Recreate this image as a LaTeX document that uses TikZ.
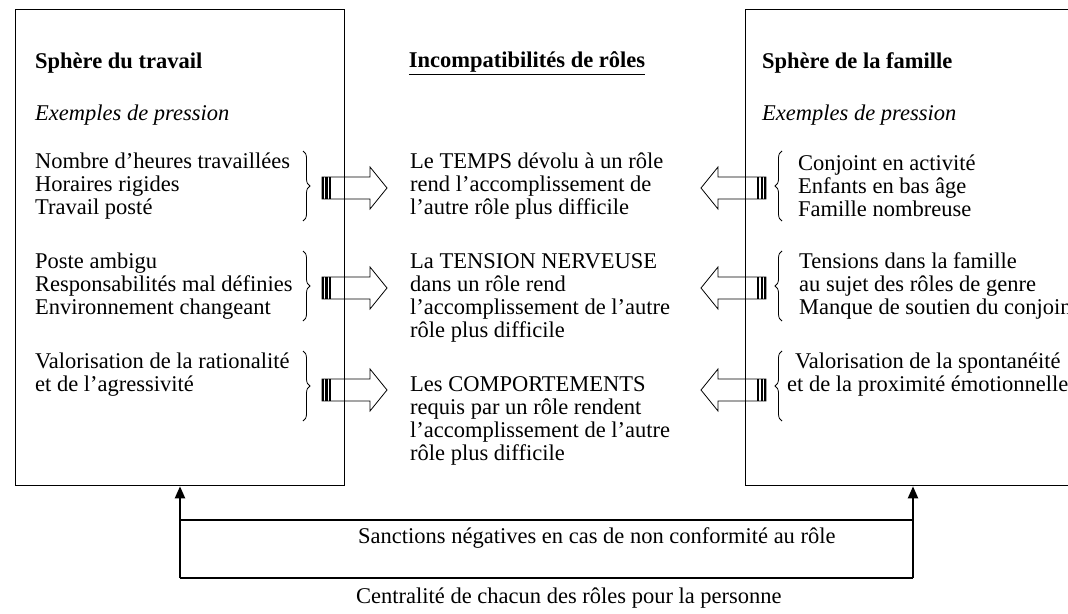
\documentclass[tikz,border=0pt]{standalone}
\usepackage{fontspec}
\setmainfont{Liberation Serif}
\usetikzlibrary{arrows.meta,decorations.pathreplacing}
\begin{document}
\begin{tikzpicture}[x=1pt,y=-1pt,
  txt/.style={font=\fontsize{22.5}{23}\selectfont, inner sep=0pt, align=left, anchor=west},
  ttl/.style={font=\fontsize{22.5}{23}\selectfont\bfseries, inner sep=0pt, anchor=west},
  sub/.style={font=\fontsize{22.5}{23}\selectfont\itshape, inner sep=0pt, anchor=west},
  box/.style={draw, line width=1.3pt, inner sep=0pt, anchor=north west},
  brc/.style={decorate, decoration={brace, amplitude=7pt}, line width=0.8pt},
  conn/.style={line width=2pt},
  stripearrow/.pic={
    \fill (0,-11) rectangle (2.2,11);
    \fill (3.3,-11) rectangle (5.5,11);
    \fill (6.6,-11) rectangle (8.8,11);
    \draw[line width=0.8pt] (0,-11) -- (48,-11) -- (48,-21) -- (65,0) -- (48,21) -- (48,11) -- (0,11) -- cycle;
  }]
\clip (0,0) rectangle (1068,613);
\fill[white] (0,0) rectangle (1068,613);
% boxes
\node[box, minimum width=329pt, minimum height=476pt] (L) at (15,9) {};
\node[box, minimum width=340pt, minimum height=476pt] (R) at (745,9) {};
% left content
\node[ttl] (Lt) at (35,63) {Sphère du travail};
\node[sub] (Ls) at (35,115) {Exemples de pression};
\node[txt] (L1) at (35,186) {Nombre d’heures travaillées\\Horaires rigides\\Travail posté};
\node[txt] (L2) at (35,286) {Poste ambigu\\Responsabilités mal définies\\Environnement changeant};
\node[txt] (L3) at (35,375) {Valorisation de la rationalité\\et de l’agressivité};
\draw[brc] (303,151) -- (303,221);
\draw[brc] (303,251) -- (303,321);
\draw[brc] (303,351) -- (303,421);
\path (322,188) pic {stripearrow};
\path (322,288) pic {stripearrow};
\path (322,390) pic {stripearrow};
% middle
\node[ttl, anchor=center] (Mt) at (527,63) {\underline{Incompatibilités de rôles}};
\node[txt] (M1) at (410,186) {Le TEMPS dévolu à un rôle\\rend l’accomplissement de\\l’autre rôle plus difficile};
\node[txt] (M2) at (410,298) {La TENSION NERVEUSE\\dans un rôle rend\\l’accomplissement de l’autre\\rôle plus difficile};
\node[txt] (M3) at (410,421) {Les COMPORTEMENTS\\requis par un rôle rendent\\l’accomplissement de l’autre\\rôle plus difficile};
% right content
\node[ttl] (Rt) at (762,63) {Sphère de la famille};
\node[sub] (Rs) at (762,115) {Exemples de pression};
\path (766,188) pic[xscale=-1] {stripearrow};
\path (766,288) pic[xscale=-1] {stripearrow};
\path (766,390) pic[xscale=-1] {stripearrow};
\draw[brc] (782,221) -- (782,151);
\draw[brc] (782,321) -- (782,251);
\draw[brc] (782,421) -- (782,351);
\node[txt] (R1) at (798,186) {Conjoint en activité\\Enfants en bas âge\\Famille nombreuse};
\node[txt] (R2) at (799,286) {Tensions dans la famille\\au sujet des rôles de genre\\Manque de soutien du conjoint};
\node[txt, align=center] (R3) at (787,375) {Valorisation de la spontanéité\\et de la proximité émotionnelle};
% bottom connectors
\coordinate (a1) at (180,520);
\coordinate (a2) at (913,520);
\coordinate (b1) at (180,578);
\coordinate (b2) at (913,578);
\draw[conn] (a1) -- (a2);
\draw[conn] (b1) -- (b2);
\draw[conn, -{Triangle[length=12pt,width=10pt]}] (b1) -- (b1 |- L.south);
\draw[conn, -{Triangle[length=12pt,width=10pt]}] (b2) -- (b2 |- R.south);
\node[txt] (S) at (358,538) {Sanctions négatives en cas de non conformité au rôle};
\node[txt] (C) at (356,598) {Centralité de chacun des rôles pour la personne};
\end{tikzpicture}
\end{document}
